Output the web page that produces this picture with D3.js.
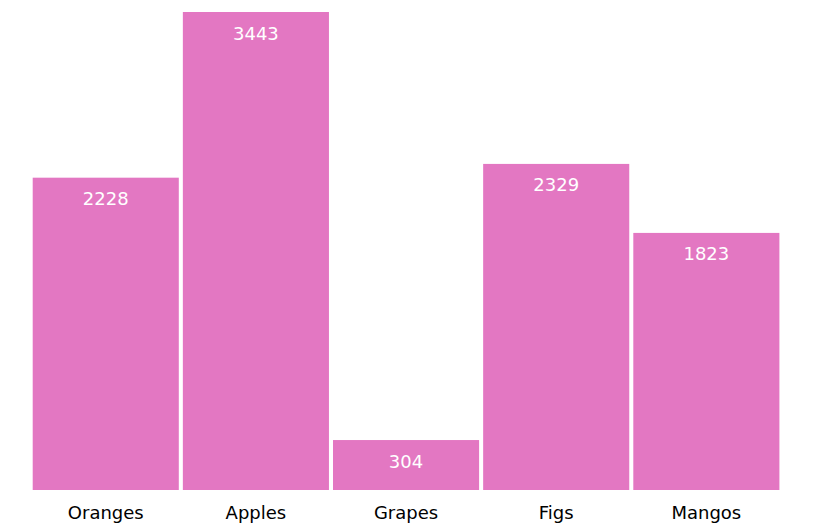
<!DOCTYPE html>
<html>
<head>
<meta charset="utf-8">
<script src="https://cdn.jsdelivr.net/npm/d3@7"></script>
<style>
html,body{margin:0;padding:0;background:#fff;}
svg{display:block;font-family:"DejaVu Sans",sans-serif;}
</style>
</head>
<body>
<svg id="chart" width="834" height="531"></svg>
<script>
const categories = ["Oranges", "Apples", "Grapes", "Figs", "Mangos"];
const values = [2228, 3443, 304, 2329, 1823];

const svg = d3.select("#chart");
const baseline = 490;
const x = d3.scaleBand().domain(categories).range([32.7, 779.4]).paddingInner(0.027).paddingOuter(0);
const y = d3.scaleLinear().domain([0, d3.max(values)]).range([481.5, 12]);

const data = categories.map((c, i) => ({c, v: values[i]}));

svg.selectAll("rect.bar").data(data).join("rect")
  .attr("class", "bar")
  .attr("x", d => x(d.c))
  .attr("width", x.bandwidth())
  .attr("y", d => y(d.v))
  .attr("height", d => baseline - y(d.v))
  .attr("fill", "#e377c2");

svg.selectAll("text.val").data(data).join("text")
  .attr("class", "val")
  .attr("x", d => x(d.c) + x.bandwidth() / 2)
  .attr("y", d => y(d.v) + 27.5)
  .attr("text-anchor", "middle")
  .attr("fill", "#fff")
  .attr("font-size", 18)
  .text(d => d.v);

const axis = d3.axisBottom(x).tickSize(0).tickPadding(0);
const g = svg.append("g").attr("transform", `translate(0,${baseline})`).call(axis);
g.select(".domain").remove();
g.selectAll("text")
  .attr("font-size", 18)
  .attr("font-family", "DejaVu Sans, sans-serif")
  .attr("fill", "#000")
  .attr("dy", null)
  .attr("y", 29);
</script>
</body>
</html>
